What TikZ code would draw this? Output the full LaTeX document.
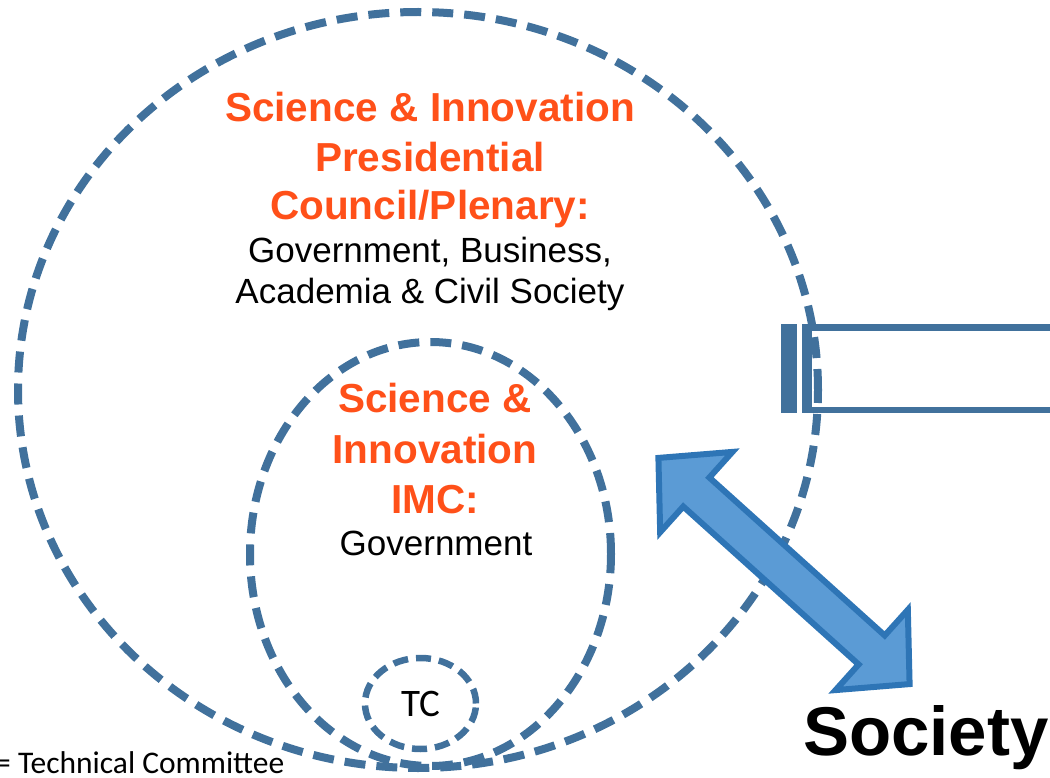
\documentclass[tikz,border=0pt]{standalone}
\usepackage{fontspec}
\setmainfont{Liberation Sans}
\newfontfamily\calibri{Carlito}
\usetikzlibrary{shapes.geometric}
\definecolor{ringblue}{RGB}{65,113,156}
\definecolor{arrowfill}{RGB}{91,155,213}
\definecolor{arrowline}{RGB}{46,117,182}
\definecolor{titleorange}{RGB}{255,80,25}
\tikzset{
  ring/.style={draw=ringblue, line width=8pt, dash pattern=on 21pt off 11pt, ellipse, inner sep=0pt},
  smallring/.style={draw=ringblue, line width=6.5pt, dash pattern=on 15pt off 8pt, ellipse, inner sep=0pt},
  title/.style={anchor=base, text=titleorange, font=\bfseries\fontsize{40.5}{49}\selectfont, inner sep=0pt},
  body/.style={anchor=base, text=black, font=\fontsize{35}{41}\selectfont, inner sep=0pt},
  bigarrow/.style={fill=arrowfill, draw=arrowline, line width=6pt, line join=miter}
}
\begin{document}
\begin{tikzpicture}[x=1pt,y=-1pt]
\useasboundingbox (0,0) rectangle (1050,778);
% side box
\fill[ringblue] (781,324) rectangle (797,413);
\fill[ringblue] (802,324) rectangle (812,413);
\draw[ringblue, line width=6.5pt] (1070,327.5) -- (807,327.5) -- (807,410) -- (1070,410);
% rings
\node[ring, minimum width=800pt, minimum height=756pt] (outer) at (418,390) {};
\node[ring, minimum width=361pt, minimum height=424pt] (inner) at (430.5,554) {};
\node[smallring, minimum width=111pt, minimum height=91pt, font=\calibri\fontsize{39}{42}\selectfont] (tc) at (420.5,703.5) {TC};
% texts
\node[title] (t1) at (430,122) {Science \& Innovation};
\node[title] (t2) at (430,172) {Presidential};
\node[title] (t3) at (430,220) {Council/Plenary:};
\node[body] (t4) at (430,263) {Government, Business,};
\node[body] (t5) at (430,303) {Academia \& Civil Society};
\node[title] (i1) at (435,412) {Science \&};
\node[title] (i2) at (435,463) {Innovation};
\node[title] (i3) at (435,513) {IMC:};
\node[body] (i4) at (436,555) {Government};
\node[anchor=base west, inner sep=0pt, font=\calibri\fontsize{31.5}{36}\selectfont] (note) at (-5,773) {= Technical Committee};
\node[anchor=base west, inner sep=0pt, font=\bfseries\fontsize{69}{75}\selectfont] (society) at (803,755) {Society};
% double arrow
\begin{scope}[shift={(784,571)}, rotate=-42]
\draw[bigarrow] (169,0) -- (118,54) -- (118,19.5) -- (-118,19.5) -- (-118,54) -- (-169,0)
  -- (-118,-54) -- (-118,-19.5) -- (118,-19.5) -- (118,-54) -- cycle;
\end{scope}
\end{tikzpicture}
\end{document}
